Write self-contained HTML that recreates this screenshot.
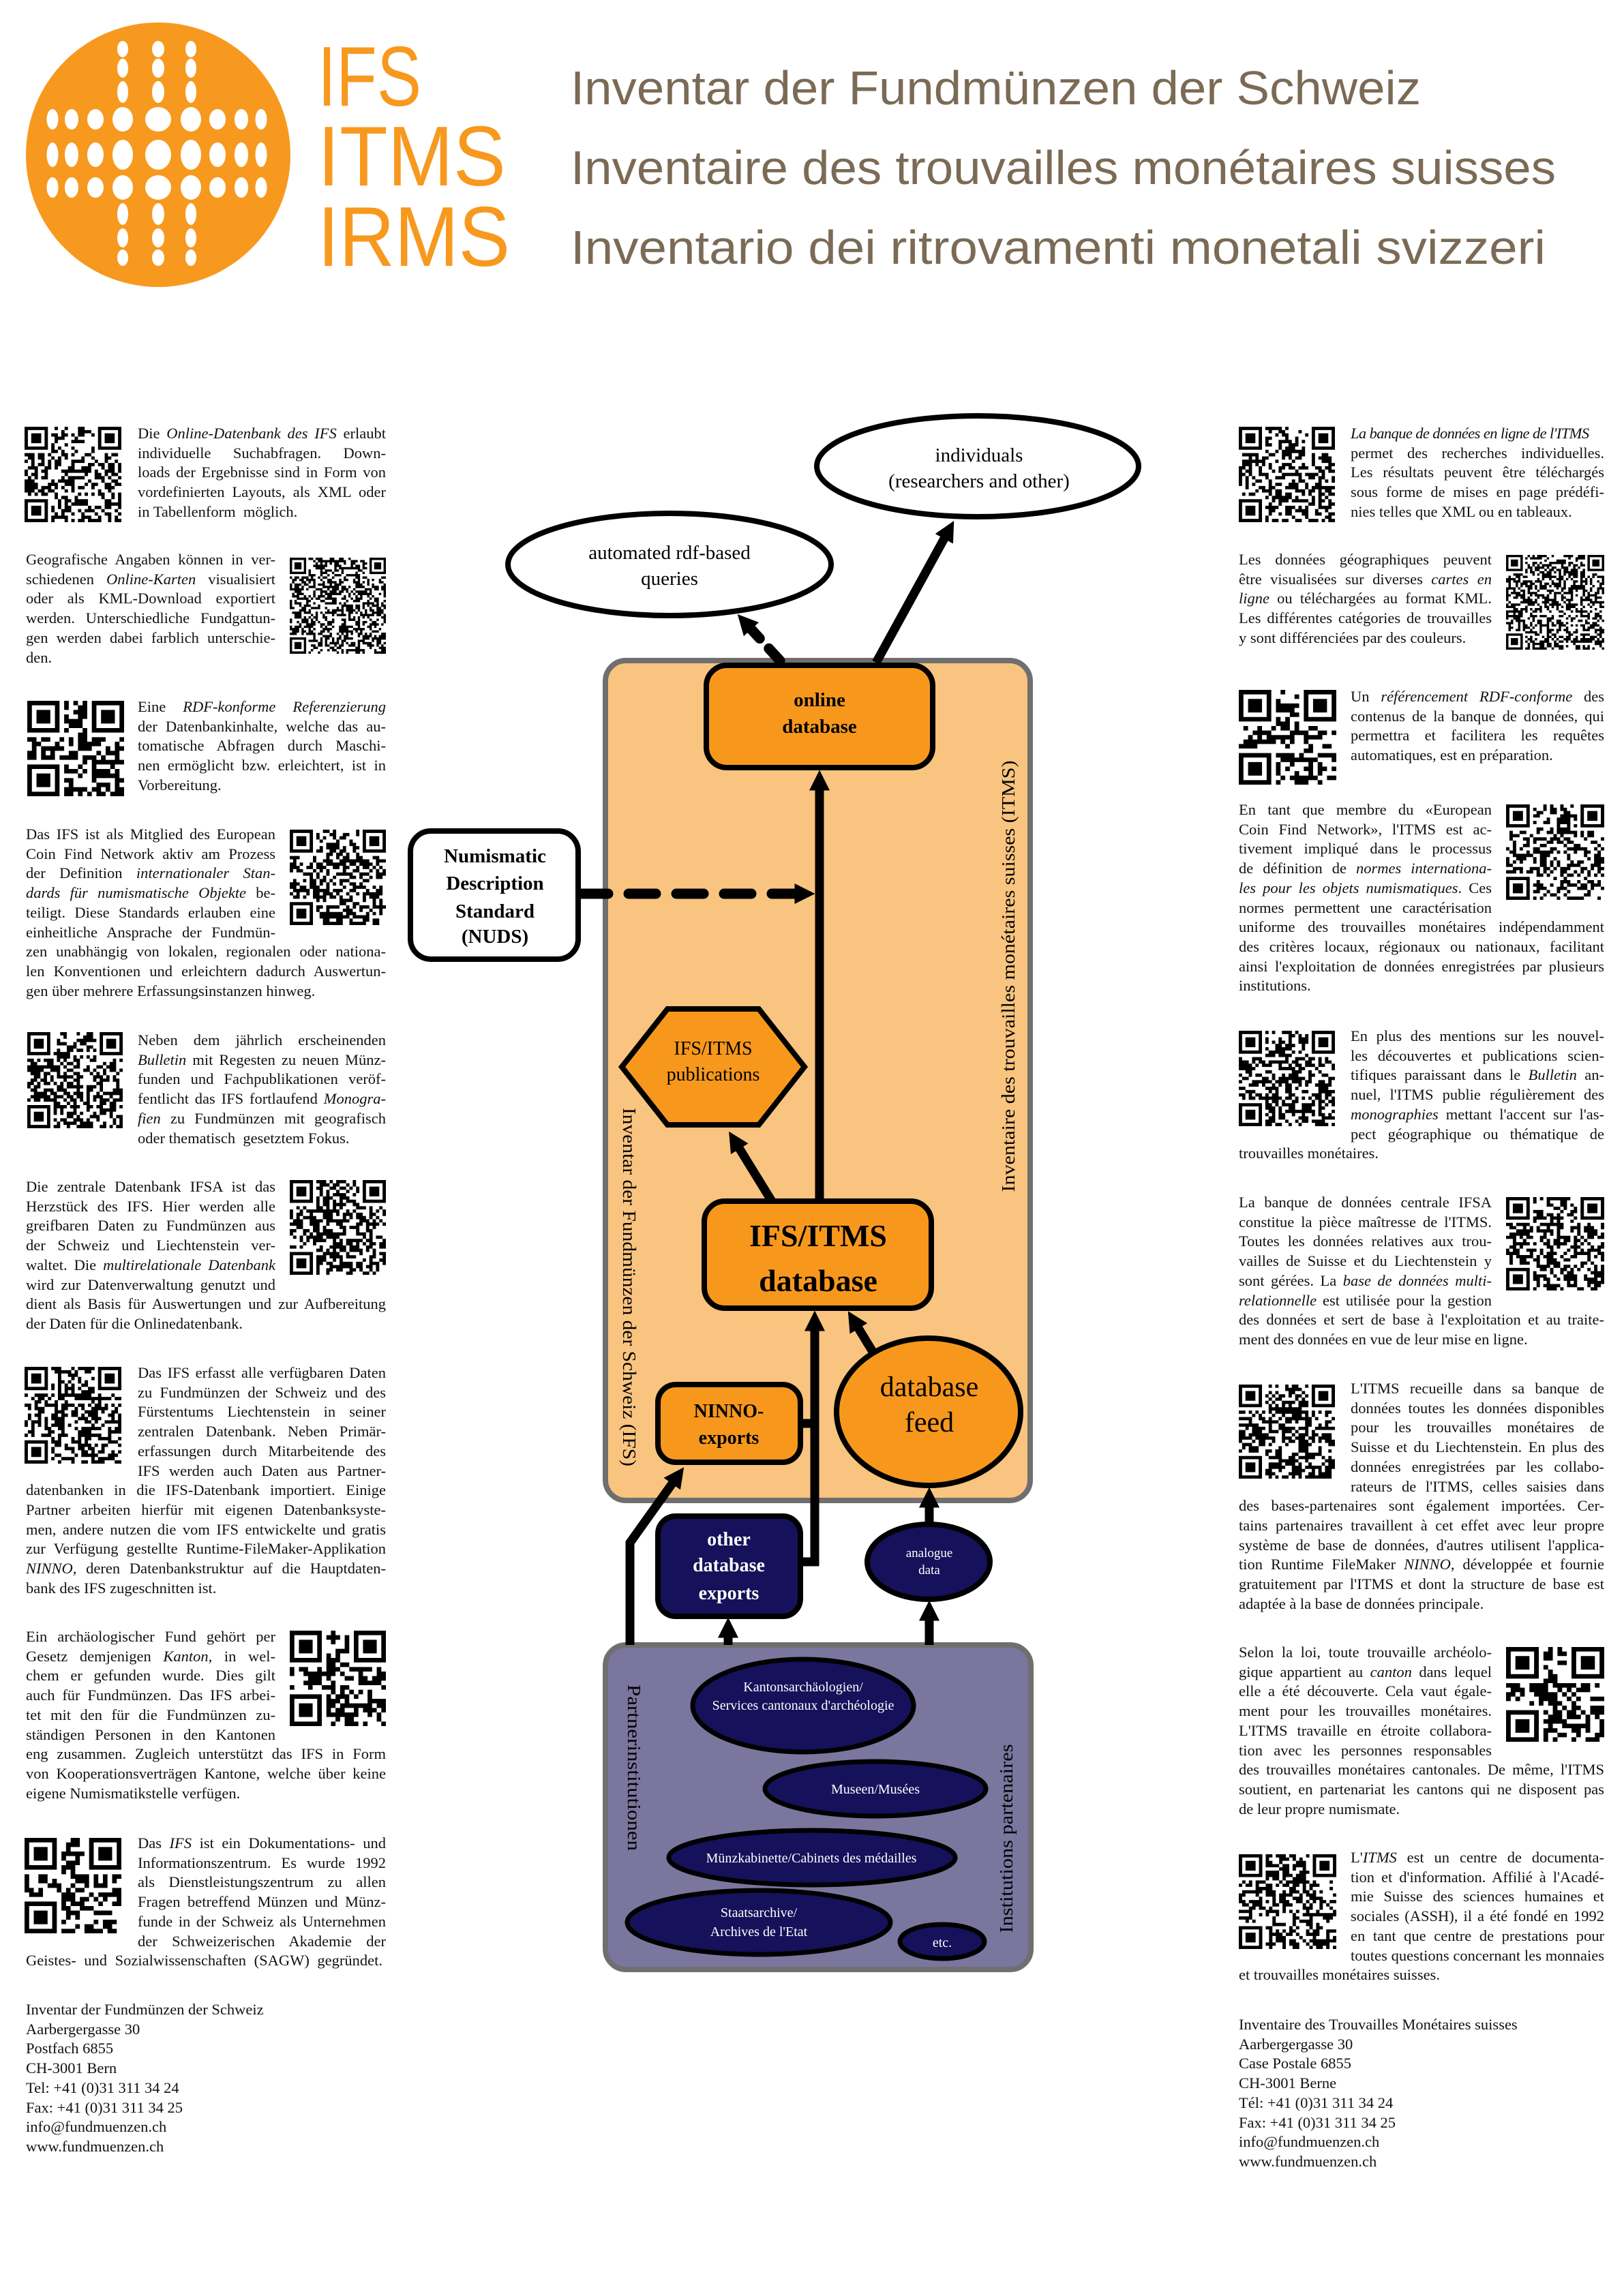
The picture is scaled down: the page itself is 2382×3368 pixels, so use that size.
<!DOCTYPE html>
<html><head><meta charset="utf-8">
<style>
html,body{margin:0;padding:0;background:#fff;}
body{width:2382px;height:3368px;position:relative;overflow:hidden;font-family:"Liberation Serif",serif;color:#111;}
.p{position:absolute;font-size:22.5px;line-height:28.7px;}
.p div{white-space:nowrap;overflow:visible;}
.j{text-align:justify;text-align-last:justify;white-space:normal!important;}
.l .n{margin-left:164px;width:364px;}
.r .n{width:366px;}
.w{width:528px;}
.rc .n{margin-left:164px;width:372px;}
.rr .n{width:371px;}
.ww{width:536px;}
.qr{position:absolute;background:#888;}
.qr svg{display:block;}
svg text{font-family:"Liberation Serif",serif;}
</style></head><body>

<svg width="2382" height="3368" style="position:absolute;left:0;top:0" xmlns="http://www.w3.org/2000/svg">
<defs>
<marker id="ah" viewBox="0 0 10 10" refX="0.5" refY="5" markerWidth="30" markerHeight="38" markerUnits="userSpaceOnUse" orient="auto"><path d="M0,0 L10,5 L0,10 z" fill="#000"/></marker>
</defs>
<circle cx="232" cy="227" r="194" fill="#f7991f"/>
<g id="dots" fill="#fff"></g>
<g fill="#f7991f">
<text x="466" y="155" font-size="124" textLength="152" lengthAdjust="spacingAndGlyphs" style="font-family:'Liberation Sans',sans-serif">IFS</text>
<text x="466" y="272" font-size="124" textLength="276" lengthAdjust="spacingAndGlyphs" style="font-family:'Liberation Sans',sans-serif">ITMS</text>
<text x="466" y="390" font-size="124" textLength="282" lengthAdjust="spacingAndGlyphs" style="font-family:'Liberation Sans',sans-serif">IRMS</text>
</g>
<g fill="#7b6a55">
<text x="837" y="153" font-size="70" textLength="1247" lengthAdjust="spacingAndGlyphs" style="font-family:'Liberation Sans',sans-serif">Inventar der Fundmünzen der Schweiz</text>
<text x="837" y="270" font-size="70" textLength="1445" lengthAdjust="spacingAndGlyphs" style="font-family:'Liberation Sans',sans-serif">Inventaire des trouvailles monétaires suisses</text>
<text x="837" y="387" font-size="70" textLength="1430" lengthAdjust="spacingAndGlyphs" style="font-family:'Liberation Sans',sans-serif">Inventario dei ritrovamenti monetali svizzeri</text>
</g>

<rect x="888" y="969" width="623" height="1232" rx="30" fill="#f9c47f" stroke="#6f6f6f" stroke-width="8"/>
<rect x="888" y="2413" width="624" height="476" rx="30" fill="#7b769e" stroke="#6f6f6f" stroke-width="8"/>

<text transform="translate(914,1888) rotate(90)" text-anchor="middle" font-size="27" textLength="526" lengthAdjust="spacingAndGlyphs">Inventar der Fundmünzen der Schweiz (IFS)</text>
<text transform="translate(1488,1432) rotate(-90)" text-anchor="middle" font-size="27" textLength="633" lengthAdjust="spacingAndGlyphs">Inventaire des trouvailles monétaires suisses (ITMS)</text>
<text transform="translate(921,2593) rotate(90)" text-anchor="middle" font-size="27" textLength="244" lengthAdjust="spacingAndGlyphs">Partnerinstitutionen</text>
<text transform="translate(1485,2697) rotate(-90)" text-anchor="middle" font-size="27" textLength="277" lengthAdjust="spacingAndGlyphs">Institutions partenaires</text>

<g stroke="#000" stroke-width="13" fill="none">
<line x1="1202" y1="1762" x2="1202" y2="1158" marker-end="url(#ah)"/>
<line x1="852" y1="1311" x2="1167" y2="1311" stroke-dasharray="40 30" stroke-linecap="round" stroke-width="15" marker-end="url(#ah)"/>
<line x1="1144" y1="969" x2="1101" y2="922" stroke-dasharray="24 20" stroke-linecap="round" stroke-width="15" marker-end="url(#ah)"/>
<line x1="1285" y1="972" x2="1385.5" y2="789" marker-end="url(#ah)"/>
<line x1="1132" y1="1762" x2="1084" y2="1684" marker-end="url(#ah)"/>
<line x1="1195" y1="2297" x2="1195" y2="1951" marker-end="url(#ah)"/>
<line x1="1170" y1="2088" x2="1195" y2="2088"/>
<line x1="1170" y1="2291" x2="1201" y2="2291"/>
<line x1="1282" y1="1986" x2="1258.6" y2="1947.6" marker-end="url(#ah)"/>
<line x1="1363" y1="2237" x2="1363" y2="2210" marker-end="url(#ah)"/>
<line x1="1363" y1="2413" x2="1363" y2="2376" marker-end="url(#ah)"/>
<line x1="1068" y1="2413" x2="1068" y2="2401" marker-end="url(#ah)"/>
<polyline points="924,2413 924,2263 986.6,2175.4" marker-end="url(#ah)"/>
</g>

<ellipse cx="1434" cy="684" rx="236" ry="74" fill="#fff" stroke="#000" stroke-width="8"/>
<text x="1436" y="677" text-anchor="middle" font-size="29">individuals</text>
<text x="1436" y="715" text-anchor="middle" font-size="29">(researchers and other)</text>
<ellipse cx="982" cy="828" rx="237" ry="75" fill="#fff" stroke="#000" stroke-width="8"/>
<text x="982" y="820" text-anchor="middle" font-size="29">automated rdf-based</text>
<text x="982" y="858" text-anchor="middle" font-size="29">queries</text>

<rect x="1036" y="976" width="332" height="150" rx="30" fill="#f7981d" stroke="#000" stroke-width="8"/>
<text x="1202" y="1036" text-anchor="middle" font-size="29" font-weight="bold">online</text>
<text x="1202" y="1075" text-anchor="middle" font-size="29" font-weight="bold">database</text>

<rect x="602" y="1219" width="246" height="188" rx="30" fill="#fff" stroke="#000" stroke-width="8"/>
<g font-size="29" font-weight="bold" text-anchor="middle">
<text x="726" y="1265">Numismatic</text><text x="726" y="1305">Description</text><text x="726" y="1346">Standard</text><text x="726" y="1383">(NUDS)</text>
</g>

<polygon points="912,1565 979,1480 1113,1480 1180,1565 1113,1650 979,1650" fill="#f7981d" stroke="#000" stroke-width="8"/>
<text x="1046" y="1547" text-anchor="middle" font-size="28">IFS/ITMS</text>
<text x="1046" y="1585" text-anchor="middle" font-size="28">publications</text>

<rect x="1033" y="1762" width="333" height="157" rx="30" fill="#f7981d" stroke="#000" stroke-width="8"/>
<text x="1200" y="1828" text-anchor="middle" font-size="46" font-weight="bold">IFS/ITMS</text>
<text x="1200" y="1894" text-anchor="middle" font-size="46" font-weight="bold">database</text>

<rect x="965" y="2031" width="209" height="114" rx="26" fill="#f7981d" stroke="#000" stroke-width="8"/>
<text x="1069" y="2079" text-anchor="middle" font-size="28" font-weight="bold">NINNO-</text>
<text x="1069" y="2118" text-anchor="middle" font-size="28" font-weight="bold">exports</text>

<ellipse cx="1362" cy="2071" rx="135" ry="108" fill="#f7981d" stroke="#000" stroke-width="8"/>
<text x="1363" y="2048" text-anchor="middle" font-size="42">database</text>
<text x="1363" y="2100" text-anchor="middle" font-size="42">feed</text>

<rect x="965" y="2224" width="209" height="147" rx="26" fill="#15115a" stroke="#000" stroke-width="8"/>
<g fill="#fff" font-size="28" font-weight="bold" text-anchor="middle">
<text x="1069" y="2267">other</text><text x="1069" y="2305">database</text><text x="1069" y="2346">exports</text>
</g>

<ellipse cx="1362" cy="2291" rx="90" ry="55" fill="#15115a" stroke="#000" stroke-width="8"/>
<text x="1363" y="2284" text-anchor="middle" font-size="19" fill="#fff">analogue</text>
<text x="1363" y="2309" text-anchor="middle" font-size="19" fill="#fff">data</text>

<g fill="#15115a" stroke="#000" stroke-width="7">
<ellipse cx="1178" cy="2502" rx="162" ry="68"/>
<ellipse cx="1284" cy="2624" rx="162" ry="40"/>
<ellipse cx="1191" cy="2725" rx="210" ry="40"/>
<ellipse cx="1113" cy="2820" rx="193" ry="47"/>
<ellipse cx="1382" cy="2848" rx="62" ry="25"/>
</g>
<g fill="#fff" font-size="20" text-anchor="middle">
<text x="1178" y="2481">Kantonsarchäologien/</text>
<text x="1178" y="2508">Services cantonaux d'archéologie</text>
<text x="1284" y="2631">Museen/Musées</text>
<text x="1190" y="2732">Münzkabinette/Cabinets des médailles</text>
<text x="1113" y="2812">Staatsarchive/</text>
<text x="1113" y="2840">Archives de l'Etat</text>
<text x="1382" y="2856">etc.</text>
</g>
</svg>

<div class="qr" data-s="1" style="left:36px;top:626px;width:142px;height:140px"></div>
<div class="qr" data-s="2" data-n="41" style="left:425px;top:818px;width:141px;height:141px"></div>
<div class="qr" data-s="3" data-n="21" style="left:40px;top:1028px;width:142px;height:140px"></div>
<div class="qr" data-s="4" style="left:425px;top:1217px;width:141px;height:140px"></div>
<div class="qr" data-s="5" style="left:40px;top:1514px;width:140px;height:141px"></div>
<div class="qr" data-s="6" style="left:425px;top:1731px;width:141px;height:139px"></div>
<div class="qr" data-s="7" style="left:36px;top:2005px;width:142px;height:142px"></div>
<div class="qr" data-s="8" data-n="21" style="left:425px;top:2392px;width:141px;height:140px"></div>
<div class="qr" data-s="9" data-n="21" style="left:36px;top:2696px;width:142px;height:140px"></div>

<div class="qr" data-s="11" style="left:1817px;top:626px;width:141px;height:140px"></div>
<div class="qr" data-s="12" data-n="41" style="left:2209px;top:814px;width:144px;height:139px"></div>
<div class="qr" data-s="13" data-n="21" style="left:1817px;top:1012px;width:143px;height:139px"></div>
<div class="qr" data-s="14" style="left:2209px;top:1180px;width:144px;height:140px"></div>
<div class="qr" data-s="15" style="left:1817px;top:1512px;width:141px;height:140px"></div>
<div class="qr" data-s="16" style="left:2209px;top:1756px;width:144px;height:137px"></div>
<div class="qr" data-s="17" style="left:1817px;top:2031px;width:141px;height:138px"></div>
<div class="qr" data-s="18" data-n="21" style="left:2209px;top:2416px;width:144px;height:139px"></div>
<div class="qr" data-s="19" style="left:1817px;top:2720px;width:143px;height:139px"></div>

<div class="p l" style="left:38px;top:622px;width:528px">
<div class="n j">Die <i>Online-Datenbank des IFS</i> erlaubt</div>
<div class="n j">individuelle Suchabfragen. Down-</div>
<div class="n j">loads der Ergebnisse sind in Form von</div>
<div class="n j">vordefinierten Layouts, als XML oder</div>
<div class="n">in Tabellenform&nbsp; möglich.</div>
</div>
<div class="p r" style="left:38px;top:807px;width:528px">
<div class="n j">Geografische Angaben können in ver-</div>
<div class="n j">schiedenen <i>Online-Karten</i> visualisiert</div>
<div class="n j">oder als KML-Download exportiert</div>
<div class="n j">werden. Unterschiedliche Fundgattun-</div>
<div class="n j">gen werden dabei farblich unterschie-</div>
<div class="n">den.</div>
</div>
<div class="p l" style="left:38px;top:1023px;width:528px">
<div class="n j">Eine <i>RDF-konforme Referenzierung</i></div>
<div class="n j">der Datenbankinhalte, welche das au-</div>
<div class="n j">tomatische Abfragen durch Maschi-</div>
<div class="n j">nen ermöglicht bzw. erleichtert, ist in</div>
<div class="n">Vorbereitung.</div>
</div>
<div class="p r" style="left:38px;top:1210px;width:528px">
<div class="n j">Das IFS ist als Mitglied des European</div>
<div class="n j">Coin Find Network aktiv am Prozess</div>
<div class="n j">der Definition <i>internationaler Stan-</i></div>
<div class="n j"><i>dards für numismatische Objekte</i> be-</div>
<div class="n j">teiligt. Diese Standards erlauben eine</div>
<div class="n j">einheitliche Ansprache der Fundmün-</div>
<div class="w j">zen unabhängig von lokalen, regionalen oder nationa-</div>
<div class="w j">len Konventionen und erleichtern dadurch Auswertun-</div>
<div>gen über mehrere Erfassungsinstanzen hinweg.</div>
</div>
<div class="p l" style="left:38px;top:1512px;width:528px">
<div class="n j">Neben dem jährlich erscheinenden</div>
<div class="n j"><i>Bulletin</i> mit Regesten zu neuen Münz-</div>
<div class="n j">funden und Fachpublikationen veröf-</div>
<div class="n j">fentlicht das IFS fortlaufend <i>Monogra-</i></div>
<div class="n j"><i>fien</i> zu Fundmünzen mit geografisch</div>
<div class="n">oder thematisch&nbsp; gesetztem Fokus.</div>
</div>
<div class="p r" style="left:38px;top:1727px;width:528px">
<div class="n j">Die zentrale Datenbank IFSA ist das</div>
<div class="n j">Herzstück des IFS. Hier werden alle</div>
<div class="n j">greifbaren Daten zu Fundmünzen aus</div>
<div class="n j">der Schweiz und Liechtenstein ver-</div>
<div class="n j">waltet. Die <i>multirelationale Datenbank</i></div>
<div class="n j">wird zur Datenverwaltung genutzt und</div>
<div class="w j">dient als Basis für Auswertungen und zur Aufbereitung</div>
<div>der Daten für die Onlinedatenbank.</div>
</div>
<div class="p l" style="left:38px;top:2000px;width:528px">
<div class="n j">Das IFS erfasst alle verfügbaren Daten</div>
<div class="n j">zu Fundmünzen der Schweiz und des</div>
<div class="n j">Fürstentums Liechtenstein in seiner</div>
<div class="n j">zentralen Datenbank. Neben Primär-</div>
<div class="n j">erfassungen durch Mitarbeitende des</div>
<div class="n j">IFS werden auch Daten aus Partner-</div>
<div class="w j">datenbanken in die IFS-Datenbank importiert. Einige</div>
<div class="w j">Partner arbeiten hierfür mit eigenen Datenbanksyste-</div>
<div class="w j">men, andere nutzen die vom IFS entwickelte und gratis</div>
<div class="w j">zur Verfügung gestellte Runtime-FileMaker-Applikation</div>
<div class="w j"><i>NINNO</i>, deren Datenbankstruktur auf die Hauptdaten-</div>
<div>bank des IFS zugeschnitten ist.</div>
</div>
<div class="p r" style="left:38px;top:2387px;width:528px">
<div class="n j">Ein archäologischer Fund gehört per</div>
<div class="n j">Gesetz demjenigen <i>Kanton</i>, in wel-</div>
<div class="n j">chem er gefunden wurde. Dies gilt</div>
<div class="n j">auch für Fundmünzen. Das IFS arbei-</div>
<div class="n j">tet mit den für die Fundmünzen zu-</div>
<div class="n j">ständigen Personen in den Kantonen</div>
<div class="w j">eng zusammen. Zugleich unterstützt das IFS in Form</div>
<div class="w j">von Kooperationsverträgen Kantone, welche über keine</div>
<div>eigene Numismatikstelle verfügen.</div>
</div>
<div class="p l" style="left:38px;top:2690px;width:528px">
<div class="n j">Das <i>IFS</i> ist ein Dokumentations- und</div>
<div class="n j">Informationszentrum. Es wurde 1992</div>
<div class="n j">als Dienstleistungszentrum zu allen</div>
<div class="n j">Fragen betreffend Münzen und Münz-</div>
<div class="n j">funde in der Schweiz als Unternehmen</div>
<div class="n j">der Schweizerischen Akademie der</div>
<div class="j" style="width:523px">Geistes- und Sozialwissenschaften (SAGW) gegründet.</div>
</div>
<div class="p" style="left:38px;top:2934px;width:528px">
<div>Inventar der Fundmünzen der Schweiz</div>
<div>Aarbergergasse 30</div>
<div>Postfach 6855</div>
<div>CH-3001 Bern</div>
<div>Tel: +41 (0)31 311 34 24</div>
<div>Fax: +41 (0)31 311 34 25</div>
<div>info@fundmuenzen.ch</div>
<div>www.fundmuenzen.ch</div>
</div>

<div class="p rc" style="left:1817px;top:622px;width:536px">
<div class="n" style="letter-spacing:-0.6px"><i>La banque de données en ligne de l'ITMS</i></div>
<div class="n j">permet des recherches individuelles.</div>
<div class="n j">Les résultats peuvent être téléchargés</div>
<div class="n j">sous forme de mises en page prédéfi-</div>
<div class="n">nies telles que XML ou en tableaux.</div>
</div>
<div class="p rr" style="left:1817px;top:807px;width:536px">
<div class="n j">Les données géographiques peuvent</div>
<div class="n j">être visualisées sur diverses <i>cartes en</i></div>
<div class="n j"><i>ligne</i> ou téléchargées au format KML.</div>
<div class="n j">Les différentes catégories de trouvailles</div>
<div class="n">y sont différenciées par des couleurs.</div>
</div>
<div class="p rc" style="left:1817px;top:1008px;width:536px">
<div class="n j">Un <i>référencement RDF-conforme</i> des</div>
<div class="n j">contenus de la banque de données, qui</div>
<div class="n j">permettra et facilitera les requêtes</div>
<div class="n">automatiques, est en préparation.</div>
</div>
<div class="p rr" style="left:1817px;top:1174px;width:536px">
<div class="n j">En tant que membre du «European</div>
<div class="n j">Coin Find Network», l'ITMS est ac-</div>
<div class="n j">tivement impliqué dans le processus</div>
<div class="n j">de définition de <i>normes internationa-</i></div>
<div class="n j"><i>les pour les objets numismatiques</i>. Ces</div>
<div class="n j">normes permettent une caractérisation</div>
<div class="ww j">uniforme des trouvailles monétaires indépendamment</div>
<div class="ww j">des critères locaux, régionaux ou nationaux, facilitant</div>
<div class="ww j">ainsi l'exploitation de données enregistrées par plusieurs</div>
<div>institutions.</div>
</div>
<div class="p rc" style="left:1817px;top:1506px;width:536px">
<div class="n j">En plus des mentions sur les nouvel-</div>
<div class="n j">les découvertes et publications scien-</div>
<div class="n j">tifiques paraissant dans le <i>Bulletin</i> an-</div>
<div class="n j">nuel, l'ITMS publie régulièrement des</div>
<div class="n j"><i>monographies</i> mettant l'accent sur l'as-</div>
<div class="n j">pect géographique ou thématique de</div>
<div>trouvailles monétaires.</div>
</div>
<div class="p rr" style="left:1817px;top:1750px;width:536px">
<div class="n j">La banque de données centrale IFSA</div>
<div class="n j">constitue la pièce maîtresse de l'ITMS.</div>
<div class="n j">Toutes les données relatives aux trou-</div>
<div class="n j">vailles de Suisse et du Liechtenstein y</div>
<div class="n j">sont gérées. La <i>base de données multi-</i></div>
<div class="n j"><i>relationnelle</i> est utilisée pour la gestion</div>
<div class="ww j">des données et sert de base à l'exploitation et au traite-</div>
<div>ment des données en vue de leur mise en ligne.</div>
</div>
<div class="p rc" style="left:1817px;top:2023px;width:536px">
<div class="n j">L'ITMS recueille dans sa banque de</div>
<div class="n j">données toutes les données disponibles</div>
<div class="n j">pour les trouvailles monétaires de</div>
<div class="n j">Suisse et du Liechtenstein. En plus des</div>
<div class="n j">données enregistrées par les collabo-</div>
<div class="n j">rateurs de l'ITMS, celles saisies dans</div>
<div class="ww j">des bases-partenaires sont également importées. Cer-</div>
<div class="ww j">tains partenaires travaillent à cet effet avec leur propre</div>
<div class="ww j">système de base de données, d'autres utilisent l'applica-</div>
<div class="ww j">tion Runtime FileMaker <i>NINNO</i>, développée et fournie</div>
<div class="ww j">gratuitement par l'ITMS et dont la structure de base est</div>
<div>adaptée à la base de données principale.</div>
</div>
<div class="p rr" style="left:1817px;top:2410px;width:536px">
<div class="n j">Selon la loi, toute trouvaille archéolo-</div>
<div class="n j">gique appartient au <i>canton</i> dans lequel</div>
<div class="n j">elle a été découverte. Cela vaut égale-</div>
<div class="n j">ment pour les trouvailles monétaires.</div>
<div class="n j">L'ITMS travaille en étroite collabora-</div>
<div class="n j">tion avec les personnes responsables</div>
<div class="ww j">des trouvailles monétaires cantonales. De même, l'ITMS</div>
<div class="ww j">soutient, en partenariat les cantons qui ne disposent pas</div>
<div>de leur propre numismate.</div>
</div>
<div class="p rc" style="left:1817px;top:2711px;width:536px">
<div class="n j">L'<i>ITMS</i> est un centre de documenta-</div>
<div class="n j">tion et d'information. Affilié à l'Acadé-</div>
<div class="n j">mie Suisse des sciences humaines et</div>
<div class="n j">sociales (ASSH), il a été fondé en 1992</div>
<div class="n j">en tant que centre de prestations pour</div>
<div class="n j">toutes questions concernant les monnaies</div>
<div>et trouvailles monétaires suisses.</div>
</div>
<div class="p" style="left:1817px;top:2956px;width:536px">
<div>Inventaire des Trouvailles Monétaires suisses</div>
<div>Aarbergergasse 30</div>
<div>Case Postale 6855</div>
<div>CH-3001 Berne</div>
<div>Tél: +41 (0)31 311 34 24</div>
<div>Fax: +41 (0)31 311 34 25</div>
<div>info@fundmuenzen.ch</div>
<div>www.fundmuenzen.ch</div>
</div>

<script>
(function(){
var NS="http://www.w3.org/2000/svg";
var g=document.getElementById("dots");
var pos=[-155,-127,-92,-52,0,48,87,122,151];
var wx=[19,15,12,10,8.5], hy=[22,18,15,12,10];
function idx(k){return Math.abs(k-4);}
for(var i=0;i<9;i++)for(var j=0;j<9;j++){
  var inCross=(i>=3&&i<=5)||(j>=3&&j<=5);
  if(!inCross)continue;
  var e=document.createElementNS(NS,"ellipse");
  var di=idx(i),dj=idx(j);
  var rx=wx[Math.max(di,dj>=2?di+1:di)>4?4:Math.max(di,dj>=2?di+1:di)];
  var ry=hy[Math.min(4,Math.max(dj,di>=2?dj+1:dj))];
  if(dj>=2&&di<=1){rx=Math.min(rx,[9,8][di]);ry=[0,0,16,14,12][dj];}
  e.setAttribute("cx",232+pos[i]);e.setAttribute("cy",227+pos[j]);
  e.setAttribute("rx",rx);e.setAttribute("ry",ry);
  g.appendChild(e);
}
var qs=document.querySelectorAll(".qr");
for(var q=0;q<qs.length;q++){
  var el=qs[q];el.style.background="#fff";
  var w=parseFloat(el.style.width),h=parseFloat(el.style.height);
  var n=parseInt(el.getAttribute("data-n")||"29");
  var seed=parseInt(el.getAttribute("data-s"))*9973+17;
  var rnd=function(){seed=(seed*1103515245+12345)&0x7fffffff;return seed/0x7fffffff;};
  var s=document.createElementNS(NS,"svg");
  s.setAttribute("width",w);s.setAttribute("height",h);
  s.setAttribute("viewBox","0 0 "+n+" "+n);s.setAttribute("preserveAspectRatio","none");
  var d="";
  var fin=function(x,y){return (x<8&&y<8)||(x>=n-8&&y<8)||(x<8&&y>=n-8);};
  for(var y=0;y<n;y++)for(var x=0;x<n;x++){
    if(fin(x,y))continue;
    if(rnd()<0.5)d+="M"+x+","+y+"h1v1h-1z";
  }
  var F=function(x,y){d+="M"+x+","+y+"h7v7h-7zM"+(x+1)+","+(y+1)+"v5h5v-5zM"+(x+2)+","+(y+2)+"h3v3h-3z";};
  F(0,0);F(n-7,0);F(0,n-7);
  var p=document.createElementNS(NS,"path");p.setAttribute("d",d);p.setAttribute("fill","#000");p.setAttribute("fill-rule","evenodd");
  s.appendChild(p);el.appendChild(s);
}
})();
</script>
</body></html>
